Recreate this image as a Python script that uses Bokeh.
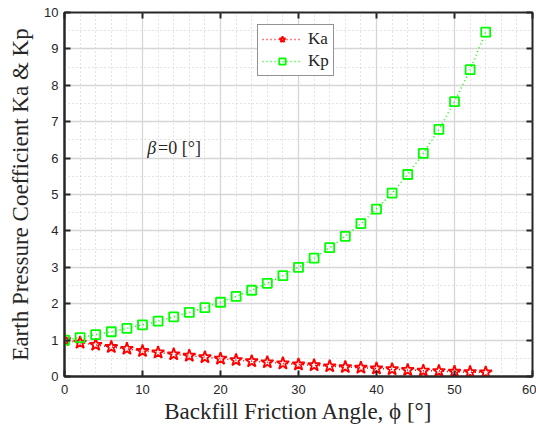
from bokeh.plotting import figure
from bokeh.models import (LinearAxis, Range1d, Label, Legend, LegendItem, FixedTicker,
                          CustomJSTickFormatter)
from bokeh.embed import file_html
from bokeh.resources import INLINE

phi = [0, 2, 4, 6, 8, 10, 12, 14, 16, 18, 20, 22, 24, 26, 28, 30, 32, 34, 36, 38, 40, 42, 44, 46, 48, 50, 52, 54]
ka = [1.00, 0.93, 0.87, 0.81, 0.76, 0.70, 0.66, 0.61, 0.57, 0.53, 0.49, 0.45, 0.42, 0.39,
      0.36, 0.33, 0.31, 0.28, 0.26, 0.24, 0.22, 0.20, 0.18, 0.16, 0.15, 0.13, 0.12, 0.11]
kp = [1.00, 1.07, 1.15, 1.23, 1.32, 1.42, 1.52, 1.64, 1.76, 1.89, 2.04, 2.20, 2.37, 2.56,
      2.77, 3.00, 3.25, 3.54, 3.85, 4.20, 4.60, 5.04, 5.55, 6.13, 6.79, 7.55, 8.43, 9.46]
x_ticks = [0, 10, 20, 30, 40, 50, 60]
y_ticks = [0, 1, 2, 3, 4, 5, 6, 7, 8, 9, 10]
x_minor = [v for v in range(0, 61, 2)]
y_minor = [v / 2 for v in range(0, 21)]

p = figure(width=536, height=432, output_backend="svg", toolbar_location=None,
           x_range=Range1d(0, 60), y_range=Range1d(0, 10),
           min_border_left=64, min_border_right=4, min_border_top=12, min_border_bottom=56)
p.background_fill_color = "white"
p.border_fill_color = "white"
p.outline_line_color = "#262626"
p.outline_line_width = 2

for ax, tk, mn in ((p.xaxis[0], x_ticks, x_minor), (p.yaxis[0], y_ticks, y_minor)):
    ax.ticker = FixedTicker(ticks=tk, minor_ticks=mn)
    ax.major_tick_in = 6
    ax.major_tick_out = 0
    ax.minor_tick_in = 0
    ax.minor_tick_out = 0
    ax.axis_line_color = "#262626"
    ax.axis_line_width = 2
    ax.major_tick_line_color = "#262626"
    ax.major_tick_line_width = 2
    ax.major_label_text_font = "Liberation Sans"
    ax.major_label_text_font_size = "13px"
    ax.major_label_text_color = "#262626"
    ax.axis_label_text_font = "Liberation Serif"
    ax.axis_label_text_font_size = "23px"
    ax.axis_label_text_font_style = "normal"
    ax.axis_label_text_color = "#262626"

p.xaxis.axis_label = "Backfill Friction Angle, ϕ [°]"
p.yaxis.axis_label = "Earth Pressure Coefficient Ka & Kp"
p.xaxis.major_label_standoff = 8
p.yaxis.major_label_standoff = 6
p.xaxis.axis_label_standoff = 2
p.yaxis.axis_label_standoff = 8

for loc, tk in (("above", x_ticks), ("right", y_ticks)):
    a = LinearAxis(ticker=FixedTicker(ticks=tk),
                   formatter=CustomJSTickFormatter(code="return ''"))
    a.major_tick_in = 6
    a.major_tick_out = 0
    a.minor_tick_in = 0
    a.minor_tick_out = 0
    a.major_tick_line_color = "#262626"
    a.major_tick_line_width = 2
    a.axis_line_color = None
    a.major_label_standoff = 0
    p.add_layout(a, loc)

p.grid.grid_line_color = "#d6d6d6"
p.grid.grid_line_width = 1.3
p.grid.minor_grid_line_color = "#c8c8c8"
p.grid.minor_grid_line_dash = "1 3"
p.grid.minor_grid_line_width = 1

la = p.line(phi, ka, line_color="red", line_dash="1 3", line_width=1.5)
sa = p.scatter(phi, ka, marker="star", size=13, fill_color=None, line_color="red", line_width=1.8)
lp = p.line(phi, kp, line_color="#00ff00", line_dash="1 3", line_width=1.5)
sp = p.scatter(phi, kp, marker="square", size=9, fill_color=None, line_color="#00ff00", line_width=1.8)

legend = Legend(items=[LegendItem(label="Ka", renderers=[la, sa]),
                       LegendItem(label="Kp", renderers=[lp, sp])],
                location=(193, 300))
legend.label_text_font = "Liberation Serif"
legend.label_text_font_size = "17px"
legend.label_text_color = "#262626"
legend.label_height = 16
legend.border_line_color = "#262626"
legend.border_line_width = 1
legend.background_fill_color = "white"
legend.background_fill_alpha = 1
legend.glyph_width = 40
legend.glyph_height = 16
legend.spacing = 2
legend.padding = 4
legend.margin = 0
legend.label_standoff = 6
p.add_layout(legend, "center")

p.add_layout(Label(x=10.6, y=6.0, text="β", text_font="Liberation Serif", text_font_style="italic",
                   text_font_size="18px", text_color="#262626"))
p.add_layout(Label(x=12.0, y=6.0, text="=0 [°]", text_font="Liberation Serif",
                   text_font_size="18px", text_color="#262626"))

open("out.html", "w").write(file_html(p, INLINE))
